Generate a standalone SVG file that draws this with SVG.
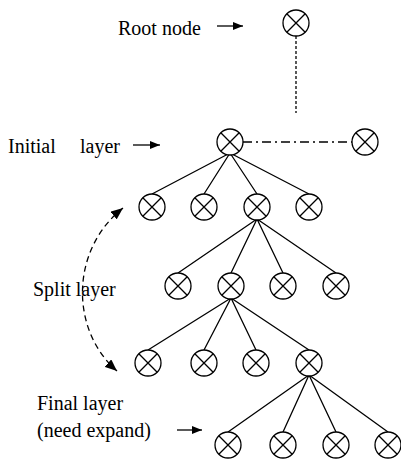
<svg xmlns="http://www.w3.org/2000/svg" width="401" height="462" viewBox="0 0 401 462">
<defs>
<style>
text{font-family:'Liberation Serif','Times New Roman',serif;font-size:20px;fill:#000}
.e{stroke:#000;stroke-width:1.3;fill:none}
</style>
<marker id="ah" viewBox="0 0 10 8" refX="10" refY="4" markerWidth="10" markerHeight="8" markerUnits="userSpaceOnUse" orient="auto-start-reverse">
<path d="M0,0 L10,4 L0,8 Z" fill="#000"/>
</marker>
<marker id="ah2" viewBox="0 0 12 10" refX="12" refY="5" markerWidth="12" markerHeight="10" markerUnits="userSpaceOnUse" orient="auto-start-reverse">
<path d="M0,0 L12,5 L0,10 Z" fill="#000"/>
</marker>
<g id="x" fill="#fff" stroke="#000" stroke-width="1.3"><circle r="13"/><path fill="none" d="M-9.2,-9.2 L9.2,9.2 M-9.2,9.2 L9.2,-9.2"/></g>
</defs>
<rect width="401" height="462" fill="#fff"/>

<g id="connectors">
<path class="e" d="M296,36 V113" stroke-dasharray="3,2"/>
<path class="e" d="M243,142 H352" stroke-dasharray="9,4,2,4"/>
<path class="e" d="M230,153 L152,194 M230,153 L204,194 M230,153 L257,194 M230,153 L309,194"/>
<path class="e" d="M257,219 L178,273 M257,219 L231,273 M257,219 L283,273 M257,219 L336,273"/>
<path class="e" d="M231,298 L148,350 M231,298 L204,350 M231,298 L256,350 M231,298 L309,350"/>
<path class="e" d="M309,375 L228,432 M309,375 L283,432 M309,375 L336,432 M309,375 L388,432"/>
<path class="e" d="M123,208 C70,250 70,330 117,371" stroke-dasharray="6,4" marker-start="url(#ah2)" marker-end="url(#ah2)"/>
<path class="e" d="M217,26 H243" marker-end="url(#ah)"/>
<path class="e" d="M133,145 H160" marker-end="url(#ah)"/>
<path class="e" d="M177,430 H202" marker-end="url(#ah)"/>
</g>

<g id="root"><use href="#x" x="296" y="23"/></g>
<g id="init"><use href="#x" x="230" y="142"/></g>
<g id="init-side"><use href="#x" x="365" y="142"/></g>
<g id="l2">
<use href="#x" x="152" y="207"/><use href="#x" x="204" y="207"/><use href="#x" x="257" y="207"/><use href="#x" x="309" y="207"/>
</g>
<g id="l3">
<use href="#x" x="178" y="286"/><use href="#x" x="231" y="286"/><use href="#x" x="283" y="286"/><use href="#x" x="336" y="286"/>
</g>
<g id="l4">
<use href="#x" x="148" y="363"/><use href="#x" x="204" y="363"/><use href="#x" x="256" y="363"/><use href="#x" x="309" y="363"/>
</g>
<g id="l5">
<use href="#x" x="228" y="445"/><use href="#x" x="283" y="445"/><use href="#x" x="336" y="445"/><use href="#x" x="388" y="445"/>
</g>

<g id="labels">
<text x="118" y="35">Root node</text>
<text x="8" y="153">Initial</text>
<text x="80" y="153">layer</text>
<text x="33" y="296">Split layer</text>
<text x="37" y="410">Final layer</text>
<text x="37" y="437">(need expand)</text>
</g>
</svg>
